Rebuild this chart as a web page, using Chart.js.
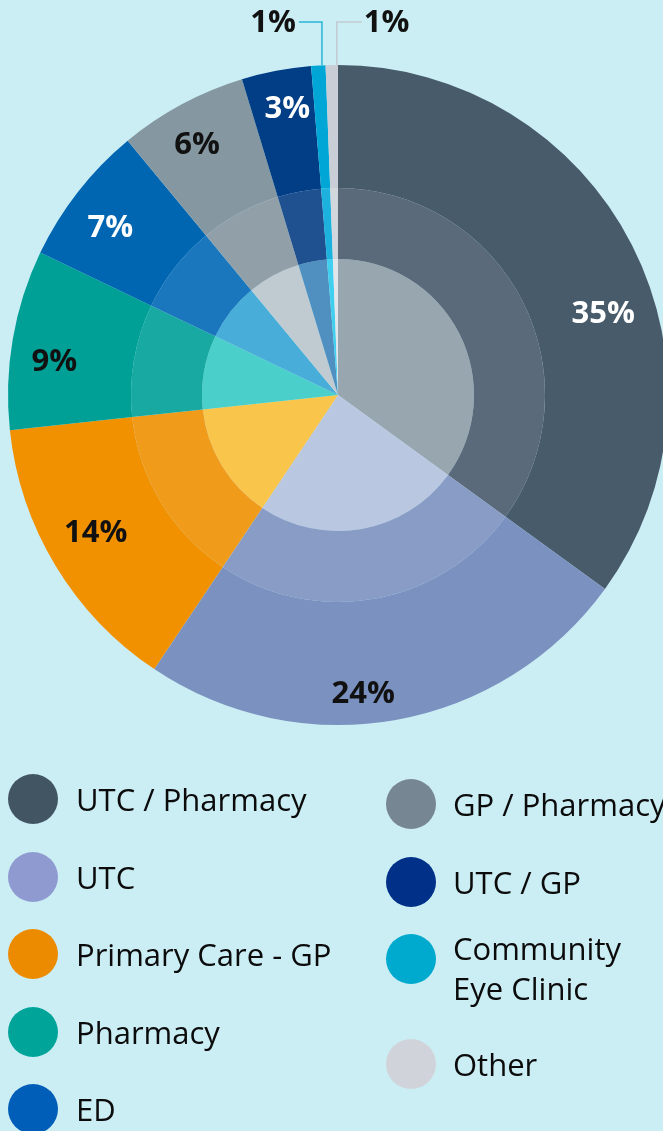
<!DOCTYPE html>
<html>
<head>
<meta charset="utf-8">
<script src="https://cdn.jsdelivr.net/npm/chart.js@4.4.1/dist/chart.umd.min.js"></script>
<style>
  html, body { margin: 0; padding: 0; width: 663px; height: 1131px; overflow: hidden; background: #cbedf4; font-family: "Open Sans", sans-serif; }
  #wrap { position: absolute; left: 0; top: 0; width: 680px; height: 740px; }
  #legend { position: absolute; left: 0; top: 0; width: 663px; height: 1131px; }
  .dot { position: absolute; width: 50px; height: 50px; border-radius: 50%; }
  .txt { position: absolute; font-size: 31px; line-height: 40px; color: #0b0b0b; white-space: nowrap; }
</style>
</head>
<body>
<div id="wrap"><canvas id="pie"></canvas></div>
<div id="legend"></div>
<script>
// ================================
// DATA
// ================================

// categories, clockwise from 12 o'clock
let categories = [
  "UTC / Pharmacy",
  "UTC",
  "Primary Care - GP",
  "Pharmacy",
  "ED",
  "GP / Pharmacy",
  "UTC / GP",
  "Community\nEye Clinic",
  "Other"
];

// share of patients, %
let shares = [35.0, 24.4, 13.9, 8.8, 6.9, 6.3, 3.4, 0.7, 0.6];

// ================================
// COLOURS
// ================================

// pie is three rings, each a bit lighter towards the middle
let ringOuter = ["#475b6b", "#7b92c0", "#f29100", "#00a096", "#0066b2", "#8597a1", "#023e86", "#00a7d6", "#c9ced6"];
let ringMid   = ["#5a6a7a", "#889cc5", "#f19b1b", "#19a9a3", "#1b77bd", "#919fa8", "#1f5090", "#1cb2dd", "#d2d7dd"];
let ringInner = ["#98a6b0", "#b9c7e1", "#f9c54b", "#4acfca", "#48aed9", "#c0cbd1", "#4f90c0", "#40cfee", "#e2e6ea"];

let legendColors = ["#425563", "#8f9bd0", "#ed8b00", "#00a499", "#005eb8", "#768692", "#003087", "#00a9ce", "#d0d4da"];

// label colour per slice
let labelColors = ["#fff", "#111", "#111", "#111", "#fff", "#111", "#fff", "#111", "#111"];

// where each % label sits: fraction along the slice angle, and radius ratio
// tiny slices get a leader line up to the top instead
let labelSpots = [
  { at: 0.58, r: 0.84 },
  { at: 0.56, r: 0.91 },
  { at: 0.53, r: 0.845 },
  { at: 0.40, r: 0.865 },
  { at: 0.43, r: 0.855 },
  { at: 0.45, r: 0.87 },
  { at: 0.56, r: 0.88 },
  { at: 0.75, leader: -23, color: "#29b6d8" },
  { at: 0.90, leader: 25, color: "#c4cad1" }
];

// ================================
// LABEL PLUGIN
// ================================

const pieLabels = {
  id: "pieLabels",
  afterDatasetsDraw(chart) {
    let ctx = chart.ctx;
    let arcs = chart.getDatasetMeta(0).data;
    ctx.save();
    ctx.font = "bold 31px 'Open Sans'";
    ctx.textBaseline = "middle";

    arcs.forEach((arc, i) => {
      let txt = Math.round(shares[i]) + "%";
      let spot = labelSpots[i];
      let a = arc.startAngle + (arc.endAngle - arc.startAngle) * spot.at;
      ctx.fillStyle = labelColors[i];

      if (spot.leader) {
        let ex = arc.x + Math.cos(a) * arc.outerRadius;
        let ey = arc.y + Math.sin(a) * arc.outerRadius;
        let ty = arc.y - arc.outerRadius - 43;
        ctx.strokeStyle = spot.color;
        ctx.lineWidth = 1.5;
        ctx.beginPath();
        ctx.moveTo(ex, ey);
        ctx.lineTo(ex, ty);
        ctx.lineTo(ex + spot.leader, ty);
        ctx.stroke();
        ctx.textAlign = spot.leader < 0 ? "right" : "left";
        ctx.fillText(txt, ex + spot.leader + (spot.leader < 0 ? -3 : 2), ty + 1);
      } else {
        let r = arc.outerRadius * spot.r;
        ctx.textAlign = "center";
        ctx.fillText(txt, arc.x + Math.cos(a) * r, arc.y + Math.sin(a) * r);
      }
    });
    ctx.restore();
  }
};

// ================================
// CHART
// ================================

let ctx = document.getElementById("pie").getContext("2d");

let pieChart = new Chart(ctx, {
  type: "pie",
  data: {
    labels: categories,
    datasets: [
      { data: shares, backgroundColor: ringOuter, borderWidth: 0, weight: 123 },
      { data: shares, backgroundColor: ringMid, borderWidth: 0, weight: 71 },
      { data: shares, backgroundColor: ringInner, borderWidth: 0, weight: 136 }
    ]
  },
  options: {
    responsive: true,
    maintainAspectRatio: false,
    animation: false,
    events: [],
    layout: { padding: { left: 8, right: 12, top: 65, bottom: 15 } },
    plugins: {
      legend: { display: false },
      tooltip: { enabled: false }
    }
  },
  plugins: [pieLabels]
});

// ================================
// LEGEND (two columns)
// ================================

function renderLegend() {
  let html = "";
  let columns = [
    { items: [0, 1, 2, 3, 4], dotX: 33, textX: 76, y: 799 },
    { items: [5, 6, 7, 8], dotX: 411, textX: 453, y: 804 }
  ];

  columns.forEach(col => {
    let y = col.y;
    col.items.forEach(i => {
      let lines = categories[i].split("\n");
      let textTop = y - 20 - 11 * (lines.length - 1);
      html += `<div class="dot" style="left:${col.dotX - 25}px;top:${y - 25}px;background:${legendColors[i]}"></div>`;
      html += `<div class="txt" style="left:${col.textX}px;top:${textTop}px">${lines.join("<br>")}</div>`;
      y += 77.5 + 27 * (lines.length - 1);
    });
  });

  document.getElementById("legend").innerHTML = html;
}

renderLegend();
</script>
</body>
</html>
